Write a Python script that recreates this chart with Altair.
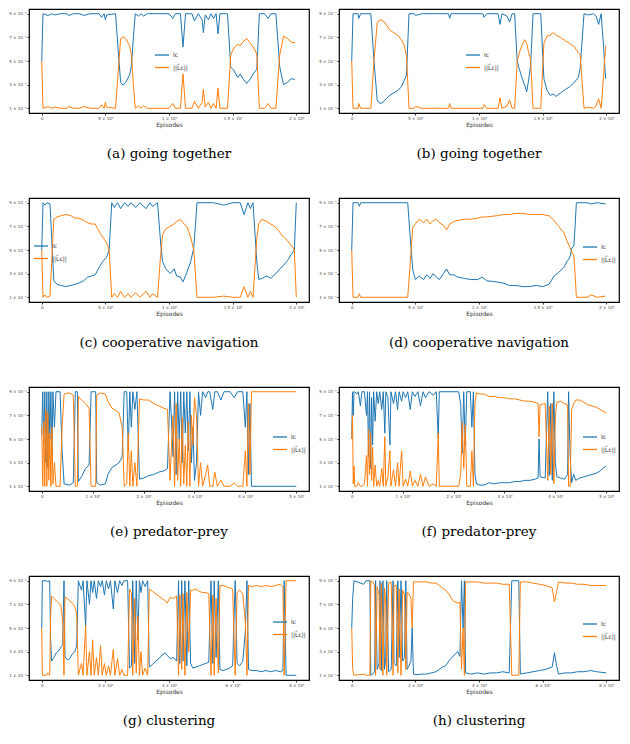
import altair as alt
import pandas as pd

BLUE_LABEL = "Iᴄ"
ORANGE_LABEL = "||L⃗ᴄ||"
SERIES = [BLUE_LABEL, ORANGE_LABEL]
COLORS = ["#1f77b4", "#ff7f0e"]

Y_TICKS = [1, 3, 5, 7, 9]
Y_LABELS = ["1 × 10⁻⁴", "3 × 10⁻⁴", "5 × 10⁻⁴", "7 × 10⁻⁴", "9 × 10⁻⁴"]

X_TICKS_2E5 = [0, 5, 10, 15, 20]
X_LABELS_2E5 = ["0", "5 × 10⁴", "1 × 10⁵", "1.5 × 10⁵", "2 × 10⁵"]
X_TICKS_5E5 = [0, 1, 2, 3, 4, 5]
X_LABELS_5E5 = ["0", "1 × 10⁵", "2 × 10⁵", "3 × 10⁵", "4 × 10⁵", "5 × 10⁵"]
X_TICKS_8E5 = [0, 2, 4, 6, 8]
X_LABELS_8E5 = ["0", "2 × 10⁵", "4 × 10⁵", "6 × 10⁵", "8 × 10⁵"]

CAPTIONS = ["(a)  going together", "(b)  going together",
            "(c)  cooperative navigation", "(d)  cooperative navigation",
            "(e)  predator-prey", "(f)  predator-prey",
            "(g)  clustering", "(h)  clustering"]

# (episode, l_c, ||L_c||)
A = [(0.0,5,5),(0.1,9,1),(0.5,8.85,1.15),(0.8,9,1),(1.0,8.9,1.1),(1.5,9,1),(2.0,9,1),(2.1,8.85,1.15),(2.5,9,1),(3.0,9,1),(3.3,8.85,1.15),(3.8,9,1),(4.5,9,1),(4.7,8.7,1.3),(4.9,9,1),(5.0,8.5,1.5),(5.1,8.9,1.1),(5.8,9,1),(6.0,6,4),(6.2,3.2,6.9),(6.4,2.95,7.05),(6.6,3.2,6.9),(6.9,3.8,6.3),(7.05,4.6,5.5),(7.2,7,3),(7.35,9,1),(7.6,8.8,1.2),(7.8,9,1),(8.0,8.8,1.2),(8.3,9,1),(9.0,9,1),(10.0,9,1),(10.3,8.6,1.4),(10.5,9,1),(10.9,9,1),(11.1,6.2,3.9),(11.3,9,1),(11.8,9,1),(12.0,8.4,1.6),(12.3,9,1),(12.6,8.5,1.5),(12.7,7.4,2.6),(12.85,8.9,1.1),(13.1,8.5,1.5),(13.3,9,1),(13.5,8.6,1.4),(13.7,9,1),(13.85,7.3,2.7),(14.0,9,1),(14.6,9,1),(14.85,4.5,5.5),(15.1,4.2,6.1),(15.4,3.6,6.4),(15.6,3.9,6.3),(15.8,3.5,6.6),(16.1,3.1,6.9),(16.4,3.5,6.5),(16.6,3.9,6.2),(16.9,4.3,5.6),(17.1,9,1),(17.5,9,1),(17.8,8.6,1.4),(18.0,9,1),(18.4,9,1),(18.7,4.5,5.5),(19.0,3.0,7.1),(19.3,3.2,6.9),(19.6,3.5,6.6),(19.9,3.45,6.55)]

B = [(0.0,5,5),(0.1,9,1),(0.5,9,1),(0.55,8.6,1.4),(0.7,9,1),(1.2,9,1),(1.5,9,1),(1.75,5,5),(2.0,1.7,8.2),(2.2,1.4,8.5),(2.45,1.5,8.4),(2.7,1.8,8.1),(3.0,2.1,7.6),(3.3,2.3,7.4),(3.6,2.5,7.2),(3.9,2.8,6.8),(4.1,3.3,6.4),(4.3,3.8,5.5),(4.5,9,1),(4.9,9,1),(5.0,8.85,1.15),(5.5,9,1),(6.5,9,1),(7.6,9,1),(7.7,8.6,1.4),(7.8,9,1),(10.3,9,1),(10.4,8.7,1.3),(10.6,9,1),(11.5,9,1),(11.65,8.1,1.9),(11.8,9,1),(12.2,8.8,1.2),(12.4,8.3,1.7),(12.6,9,1),(12.8,9,1),(13.0,5.0,5.0),(13.2,4.2,5.8),(13.4,3.5,6.4),(13.6,2.9,6.8),(13.75,2.4,6.5),(13.9,3.4,5.7),(14.05,4.6,5.2),(14.25,9,1),(14.85,9,1),(15.1,3.5,6.5),(15.35,2.5,7.1),(15.6,2.1,7.2),(15.85,2.2,7.4),(16.05,2.0,7.2),(16.4,2.3,7.0),(16.8,2.6,6.7),(17.1,2.8,6.5),(17.5,3.2,6.2),(17.8,3.6,5.7),(17.95,4.4,5.5),(18.25,9,1),(18.6,8.9,1.1),(19.0,9,1),(19.2,8.8,1.2),(19.4,8.1,1.8),(19.6,9,1),(19.8,6,4),(19.95,3.5,6.3)]

C = [(0.0,5,5),(0.1,9,1),(0.25,8.8,1.2),(0.4,9,1),(0.65,8.9,1.1),(0.95,2.4,7.6),(1.2,2.1,7.8),(1.5,2.0,7.9),(1.9,1.9,8.0),(2.3,2.0,7.9),(2.6,2.1,7.7),(2.9,2.2,7.7),(3.3,2.4,7.5),(3.6,2.7,7.3),(3.9,2.8,7.2),(4.2,2.9,7.2),(4.4,3.3,6.8),(4.6,3.7,6.4),(4.85,4.1,6.0),(5.1,4.4,5.6),(5.3,5,5),(5.5,9,1),(5.7,8.6,1.3),(5.95,9,1),(6.2,8.5,1.5),(6.5,9,1),(6.8,8.7,1.3),(7.0,9,1),(7.4,8.6,1.4),(7.7,9,1),(8.2,8.5,1.5),(8.5,9,1),(8.7,8.7,1.3),(9.1,9,1),(9.35,5.5,4.7),(9.5,4.0,6.3),(9.75,3.4,6.8),(10.1,3.0,7.0),(10.4,3.4,7.2),(10.6,2.8,7.4),(10.9,2.7,7.6),(11.1,2.3,7.3),(11.4,3.1,7.0),(11.7,4.0,6.1),(11.95,5.2,5.0),(12.2,9,1),(13.5,9,1),(14.3,8.8,1.1),(15.0,9,1),(15.6,9,1),(15.9,8.0,1.9),(16.2,9,1),(16.4,8.5,1.5),(16.6,9,1),(16.9,4,6),(17.05,2.5,7.2),(17.3,2.6,7.6),(17.7,2.8,7.4),(18.0,2.6,7.2),(18.4,3.0,6.9),(18.7,3.4,6.5),(19.0,3.7,6.1),(19.3,4.1,5.8),(19.6,4.6,5.4),(19.85,5.0,5.0),(20.0,9,1)]

D = [(0.0,5,5),(0.1,9,1),(0.5,9,1),(0.6,8.7,1.3),(0.7,9,1),(4.4,9,1),(4.6,6,4),(4.8,3.3,6.9),(5.0,2.5,7.2),(5.3,2.8,7.6),(5.65,2.5,7.3),(5.9,2.9,7.6),(6.15,2.6,7.2),(6.4,3.0,7.5),(6.65,2.7,7.6),(6.9,2.5,7.3),(7.2,3.0,7.1),(7.45,3.4,6.7),(7.7,2.9,7.2),(8.0,2.9,7.4),(8.35,2.7,7.5),(8.85,2.6,7.6),(9.35,2.5,7.6),(9.9,2.5,7.7),(10.25,2.7,7.8),(10.6,2.4,7.8),(11.4,2.3,7.9),(11.9,2.2,8.0),(12.4,2.0,8.0),(12.9,2.0,8.1),(13.45,1.9,8.1),(13.95,1.9,8.0),(14.5,2.0,8.0),(15.0,1.9,8.0),(15.5,2.1,7.9),(15.9,2.8,7.5),(16.25,3.1,7.0),(16.65,3.5,6.5),(16.9,4.0,5.8),(17.15,4.4,5.2),(17.3,5.2,4.8),(17.45,5.3,4.5),(17.55,7,3),(17.65,9,1),(18.5,9,1),(18.8,8.9,1.2),(19.3,9,1),(19.95,8.9,1.1)]

E = [(0.00,5.3,6.0),(0.02,9,1),(0.04,4.5,6.5),(0.06,9,1),(0.08,3.0,7.5),(0.10,9,1),(0.12,2.6,7.2),(0.14,9,1.5),(0.16,5.0,5.5),(0.18,9,1),(0.20,3.5,6.0),(0.22,9,1.2),(0.25,6.0,3.0),(0.28,9,1),(0.36,9,1),(0.40,4,6),(0.44,1.2,8.8),(0.54,1.1,8.9),(0.62,1.3,8.7),(0.66,9,1),(0.70,9,1),(0.72,1.4,8.6),(0.78,1.8,8.3),(0.86,2.5,8.0),(0.93,2.8,7.6),(0.97,9,1),(1.06,9,1),(1.08,1.3,8.7),(1.15,1.1,8.9),(1.25,1.2,8.8),(1.30,2.0,8.2),(1.38,2.6,7.6),(1.46,2.8,7.4),(1.52,3.0,7.2),(1.58,3.5,6.0),(1.62,9,1),(1.67,9,1.2),(1.70,4.0,5.5),(1.73,9,1),(1.76,6.0,4.0),(1.79,9,1),(1.83,7.5,3.0),(1.87,9,1),(1.92,1.6,8.4),(2.00,1.7,8.3),(2.10,1.9,8.3),(2.20,2.0,8.0),(2.30,2.2,7.8),(2.40,2.3,7.6),(2.47,2.5,7.5),(2.52,9,1.5),(2.55,6.5,4.5),(2.58,3.5,7.0),(2.61,9,1),(2.64,2.0,8.0),(2.67,9,1.5),(2.70,5.0,5.0),(2.73,9,1),(2.76,3.0,6.8),(2.79,9,1.2),(2.82,5.5,4.5),(2.85,9,1),(2.88,4.0,6.5),(2.91,9,1),(2.94,3.0,7.0),(2.97,6.0,4.5),(3.00,1.5,8.5),(3.04,3.0,7.0),(3.08,9,1),(3.12,7.0,3.0),(3.16,9,1),(3.22,8.5,2.0),(3.26,9,2.8),(3.30,9,1),(3.36,7.5,1),(3.40,9,2.2),(3.45,9,1),(3.52,8.3,1.5),(3.58,9,1),(3.70,9,1),(3.78,8.5,1.3),(3.85,9,1),(3.95,9,1),(4.00,6.0,4.0),(4.03,9,1),(4.06,2.0,8.0),(4.09,8.0,2.0),(4.12,1,9),(5.00,1,9)]

F = [(0.000,5.0,5.0),(0.015,9.0,7.0),(0.030,7.0,1.2),(0.045,9.0,2.7),(0.060,9.0,1.0),(0.10,8.8,1.0),(0.13,9.0,1.3),(0.17,7.8,1.0),(0.20,9.0,1.0),(0.25,9.0,1.2),(0.29,7.0,3.6),(0.31,9.0,1.0),(0.33,3.5,5.8),(0.35,9.0,2.0),(0.37,2.5,5.5),(0.39,8.5,1.5),(0.41,4.5,4.3),(0.43,9.0,1.0),(0.46,6.5,2.8),(0.49,9.0,1.0),(0.52,8.0,1.5),(0.55,9.0,1.0),(0.59,7.5,2.5),(0.62,9.0,1.0),(0.65,5.5,5.2),(0.67,9.0,1.0),(0.71,8.5,1.8),(0.75,4.5,4.0),(0.77,9.0,1.0),(0.82,8.0,2.4),(0.86,9.0,1.0),(0.90,7.5,3.0),(0.93,9.0,1.0),(0.98,8.2,4.0),(1.01,9.0,1.0),(1.06,8.5,1.6),(1.10,9.0,1.0),(1.15,7.5,2.3),(1.19,9.0,1.0),(1.24,8.6,1.5),(1.30,9.0,1.0),(1.35,7.8,2.0),(1.40,9.0,1.0),(1.45,8.5,1.8),(1.52,9.0,1.0),(1.60,8.7,1.2),(1.66,9.0,1.0),(1.70,5.0,5.5),(1.72,9.0,1.0),(2.10,9.0,1.0),(2.14,8.0,2.0),(2.17,3.8,6.4),(2.20,9.0,2.5),(2.23,4.5,6.2),(2.26,9.0,1.0),(2.33,9.0,1.0),(2.36,6.0,4.0),(2.39,9.0,1.0),(2.42,2.0,8.0),(2.45,1.2,8.9),(2.52,1.1,8.8),(2.60,1.1,8.8),(2.70,1.3,8.6),(2.80,1.2,8.6),(2.90,1.3,8.5),(3.00,1.3,8.5),(3.10,1.3,8.4),(3.20,1.4,8.4),(3.30,1.4,8.3),(3.40,1.5,8.2),(3.50,1.5,8.2),(3.60,1.6,8.1),(3.66,1.7,8.0),(3.68,5.0,5.2),(3.70,1.8,7.9),(3.80,1.7,8.0),(3.85,9.0,1.5),(3.88,1.9,7.8),(3.91,8.0,2.0),(3.94,1.5,8.0),(3.97,9.0,1.2),(4.00,3.0,7.0),(4.03,1.8,8.1),(4.10,1.7,8.2),(4.18,1.6,8.0),(4.24,2.0,7.9),(4.26,9.0,1.0),(4.29,3.5,1.0),(4.32,1.3,7.5),(4.36,2.0,8.0),(4.40,1.5,8.3),(4.48,1.7,8.3),(4.56,1.8,8.1),(4.64,1.9,7.9),(4.72,2.0,7.8),(4.80,2.1,7.7),(4.88,2.3,7.5),(4.96,2.6,7.3),(5.00,2.7,7.2)]

G = [(0.00,5,5),(0.02,9,1),(0.15,9,1),(0.18,8.9,1.2),(0.25,9,1),(0.28,4,6),(0.31,2.2,7.7),(0.38,2.5,7.5),(0.46,2.9,7.3),(0.54,3.1,7.1),(0.61,3.4,6.8),(0.66,3.6,5.5),(0.70,9,1),(0.73,2.6,7.6),(0.80,2.3,7.5),(0.88,2.4,7.3),(0.96,2.8,7.1),(1.04,3.0,6.8),(1.10,3.5,6.2),(1.15,9,1),(1.25,8.2,2.0),(1.30,9,1),(1.38,5.2,5.2),(1.42,9,1),(1.50,7.0,3.0),(1.55,9,1),(1.60,8.0,4.0),(1.65,9,1),(1.72,7.5,2.5),(1.78,9,1),(1.85,8.5,3.5),(1.90,9,1),(1.97,7.8,2.0),(2.03,9,1),(2.10,8.3,1.8),(2.16,9,1),(2.25,6.6,3.2),(2.30,9,1),(2.38,8.0,2.4),(2.45,9,1),(2.52,8.6,1.5),(2.58,9,1),(2.70,9,1),(2.76,1.6,8.3),(2.82,1.8,8.0),(2.86,9,1),(2.92,2.0,7.5),(2.97,9,1.2),(3.02,4.0,6.0),(3.07,9,1),(3.12,8.0,3.0),(3.17,9,1),(3.25,8.5,1.6),(3.33,9,1),(3.38,1.7,8.3),(3.48,1.9,8.1),(3.58,2.2,7.9),(3.68,2.4,7.7),(3.78,2.7,7.5),(3.88,2.9,7.3),(3.94,2.7,7.1),(4.04,2.4,7.6),(4.14,2.5,7.5),(4.24,2.2,7.7),(4.30,9,1),(4.34,2.0,7.8),(4.40,9,1.5),(4.44,2.2,7.9),(4.50,9,1),(4.56,1.8,8.0),(4.62,9,3.0),(4.68,2.0,8.2),(4.75,1.6,8.2),(4.85,1.7,8.3),(4.95,1.8,8.1),(5.05,1.9,8.0),(5.15,2.0,8.0),(5.25,2.1,7.9),(5.32,9,1),(5.38,2.0,7.8),(5.42,9,1),(5.48,2.5,7.5),(5.55,9,1.2),(5.60,1.5,8.6),(5.70,1.4,8.6),(5.80,1.5,8.5),(5.90,1.6,8.4),(6.00,1.8,8.3),(6.08,9,1),(6.14,2.0,8.0),(6.22,1.8,8.2),(6.32,2.2,7.9),(6.40,4.8,5.5),(6.45,9,1),(6.50,1.5,8.6),(6.60,1.4,8.5),(6.75,1.4,8.6),(6.90,1.3,8.5),(7.05,1.4,8.6),(7.20,1.3,8.5),(7.35,1.4,8.6),(7.50,1.3,8.7),(7.58,1.4,8.5),(7.62,9,1),(7.68,1.0,9.0),(8.00,1.0,9.0)]

H = [(0.00,5.0,5.0),(0.03,7.5,1.5),(0.07,9,1),(0.38,8.7,1.1),(0.45,9,1),(0.57,9,1),(0.60,1.0,9.0),(0.66,1.1,8.9),(0.72,1.3,8.6),(0.75,9,1),(0.80,1.5,8.5),(0.86,2.0,7.8),(0.89,9,1.5),(0.93,1.4,8.8),(0.98,9,1),(1.03,1.5,8.4),(1.07,2.5,7.0),(1.10,9,1),(1.16,1.3,8.8),(1.24,1.5,8.9),(1.30,9,1),(1.33,2.0,8.6),(1.40,1.8,8.6),(1.45,9,1.2),(1.49,2.5,8.3),(1.55,9,1),(1.60,2.2,8.2),(1.66,2.5,7.8),(1.70,9,1.5),(1.74,1.5,8.0),(1.80,1.8,7.9),(1.86,2.2,7.5),(1.90,5,5),(1.94,1.1,8.9),(2.05,1.05,8.9),(2.20,1.1,8.9),(2.35,1.1,8.9),(2.50,1.2,8.8),(2.65,1.3,8.8),(2.75,1.5,8.6),(2.85,1.7,8.4),(2.95,1.8,8.2),(3.05,2.2,7.9),(3.15,2.5,7.4),(3.25,2.8,7.2),(3.33,3.0,7.1),(3.40,2.6,7.2),(3.45,9,1.5),(3.50,5.0,5.0),(3.54,9,1),(3.58,1.2,8.9),(3.75,1.1,8.9),(3.95,1.2,8.9),(4.15,1.1,8.8),(4.35,1.2,8.8),(4.55,1.2,8.8),(4.75,1.3,8.7),(4.95,1.2,8.7),(5.03,9,1),(5.25,9,1),(5.30,1.1,8.9),(5.50,1.2,8.9),(5.70,1.3,8.8),(5.90,1.4,8.7),(6.10,1.5,8.6),(6.30,1.7,8.4),(6.37,2.9,7.2),(6.44,1.8,8.1),(6.50,1.1,8.9),(6.70,1.2,8.8),(6.90,1.2,8.8),(7.10,1.3,8.7),(7.30,1.3,8.7),(7.50,1.4,8.6),(7.70,1.3,8.6),(8.00,1.2,8.6)]

W = 280
H_PLOT = 104


def label_expr(ticks, labels):
    parts = [f"datum.value == {t} ? '{l}'" for t, l in zip(ticks, labels)]
    return " : ".join(parts) + " : ''"


def panel(points, xdom, xticks, xlabels, caption, lx, ly):
    rows = [{"x": p[0], "v": p[1], "s": BLUE_LABEL} for p in points]
    rows += [{"x": p[0], "v": p[2], "s": ORANGE_LABEL} for p in points]
    df = pd.DataFrame(rows)
    return alt.Chart(df).mark_line(strokeWidth=1).encode(
        x=alt.X("x:Q", scale=alt.Scale(domain=xdom, nice=False, zero=False),
                axis=alt.Axis(values=xticks, labelExpr=label_expr(xticks, xlabels),
                              title="Episodes")),
        y=alt.Y("v:Q", scale=alt.Scale(domain=[0.6, 9.4], nice=False, zero=False),
                axis=alt.Axis(values=Y_TICKS, labelExpr=label_expr(Y_TICKS, Y_LABELS),
                              title=None)),
        color=alt.Color("s:N", scale=alt.Scale(domain=SERIES, range=COLORS), title=None,
                        legend=alt.Legend(orient="none", legendX=lx, legendY=ly,
                                          symbolType="stroke", symbolSize=196,
                                          symbolStrokeWidth=1.3, labelFontSize=6,
                                          labelFont="DejaVu Sans", rowPadding=1.5,
                                          labelOffset=3, padding=0, labelColor="#333")),
    ).properties(
        width=W, height=H_PLOT,
        title=alt.Title(caption, orient="bottom", anchor="middle", font="DejaVu Serif",
                        fontSize=13.5, fontWeight="normal", offset=20, color="black"),
    )


R1 = (-1, 21)
R3 = (-0.25, 5.25)
R4 = (-0.4, 8.4)

pa = panel(A, R1, X_TICKS_2E5, X_LABELS_2E5, CAPTIONS[0], 125, 38)
pb = panel(B, R1, X_TICKS_2E5, X_LABELS_2E5, CAPTIONS[1], 126, 38)
pc = panel(C, R1, X_TICKS_2E5, X_LABELS_2E5, CAPTIONS[2], 4, 40)
pd_ = panel(D, R1, X_TICKS_2E5, X_LABELS_2E5, CAPTIONS[3], 243, 41)
pe = panel(E, R3, X_TICKS_5E5, X_LABELS_5E5, CAPTIONS[4], 243, 42)
pf = panel(F, R3, X_TICKS_5E5, X_LABELS_5E5, CAPTIONS[5], 243, 42)
pg = panel(G, R4, X_TICKS_8E5, X_LABELS_8E5, CAPTIONS[6], 243, 38)
ph = panel(H, R4, X_TICKS_8E5, X_LABELS_8E5, CAPTIONS[7], 243, 40)


def row(l, r):
    return alt.hconcat(l, r, spacing=8).resolve_legend(color="independent").resolve_scale(color="independent")


chart = alt.vconcat(row(pa, pb), row(pc, pd_), row(pe, pf), row(pg, ph), spacing=35).resolve_legend(
    color="independent").resolve_scale(color="independent").properties(
    padding={"left": 0, "top": 0, "right": 0, "bottom": 0}
).configure_view(stroke="black", strokeWidth=1.2).configure_axis(
    domain=False, grid=False, tickColor="black", tickSize=2, tickWidth=0.8,
    labelFontSize=4, labelColor="#444", labelFont="DejaVu Sans", labelPadding=1,
    titleFontSize=6, titleFont="DejaVu Sans", titleFontWeight="normal", titleColor="#333",
    titlePadding=1,
).configure_legend(titleFontSize=0)

chart.save("out.html", embed_options={"renderer": "svg", "actions": False})
